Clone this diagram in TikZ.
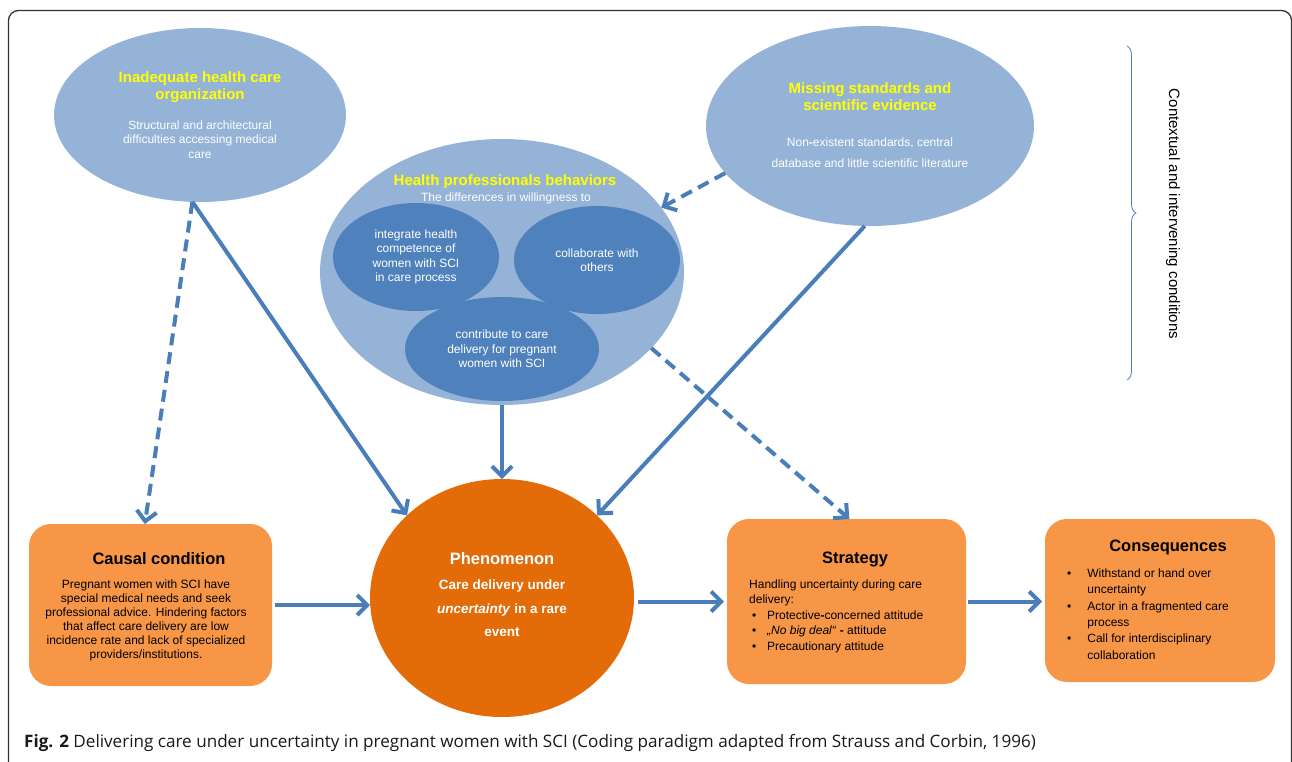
\documentclass[tikz,border=0pt]{standalone}
\usepackage{fontspec}
\setmainfont{Liberation Sans}
\newfontfamily\capfont{Open Sans}
\usetikzlibrary{arrows.meta,shapes.geometric,decorations.pathreplacing}
\definecolor{paleblue}{HTML}{95B3D7}
\definecolor{midblue}{HTML}{4F81BD}
\definecolor{arrowblue}{HTML}{4A7EBB}
\definecolor{boxorange}{HTML}{F79646}
\definecolor{phenorange}{HTML}{E36C09}
\definecolor{titleyellow}{HTML}{FFFF00}
\begin{document}
\begin{tikzpicture}[x=1pt,y=-1pt,
	bigell/.style={ellipse,fill=paleblue,inner sep=0pt,outer sep=0pt},
	smallell/.style={ellipse,fill=midblue,inner sep=0pt,outer sep=0pt},
	orbox/.style={rectangle,rounded corners=22pt,fill=boxorange,inner sep=0pt,outer sep=0pt},
	ttl/.style={text=titleyellow,font=\fontsize{15}{17.5}\selectfont\bfseries,align=center,inner sep=0pt},
	wtxt/.style={text=white,font=\fontsize{12}{14.3}\selectfont,align=center,inner sep=0pt},
	btxt/.style={text=black,font=\fontsize{12}{14}\selectfont,align=center,inner sep=0pt},
	hd/.style={text=black,font=\fontsize{16.5}{20}\selectfont\bfseries,inner sep=0pt},
	conn/.style={draw=arrowblue,line width=4pt,-{Straight Barb[length=10pt,width=20pt]}},
	dconn/.style={conn,dash pattern=on 12pt off 7pt}]
	\useasboundingbox (0,0) rectangle (1292,761);
	%	frame
	\draw[rounded corners=10pt,line width=1.3pt,draw=black!80] (8.5,10.5) rectangle (1291.5,772);
	% contextual conditions
	\node[bigell,minimum width=292pt,minimum height=174pt] (inad) at (200,115) {};
	\node[ttl] (inadttl) at (200,87) {Inadequate health care\\organization};
	\node[wtxt] (inadtxt) at (200,139.5) {Structural and architectural\\difficulties accessing medical\\care};
	\node[bigell,minimum width=364pt,minimum height=266pt] (hpb) at (502,272) {};
	\node[ttl] (hpbttl) at (505,182) {Health professionals behaviors};
	\node[wtxt] (hpbtxt) at (506,198) {The differences in willingness to};
	\node[smallell,minimum width=166pt,minimum height=108pt] (integ) at (416,257) {};
	\node[wtxt] (integtxt) at (416,257) {integrate health\\competence of\\women with SCI\\in care process};
	\node[smallell,minimum width=166pt,minimum height=108pt] (collab) at (597,260) {};
	\node[wtxt] (collabtxt) at (597,260) {collaborate with\\others};
	\node[smallell,minimum width=194pt,minimum height=104pt] (contrib) at (502,349) {};
	\node[wtxt] (contribtxt) at (502,349) {contribute to care\\delivery for pregnant\\women with SCI};
	\node[bigell,minimum width=328pt,minimum height=200pt] (miss) at (870,126) {};
	\node[ttl] (missttl) at (870,96.5) {Missing standards and\\scientific evidence};
	\node[wtxt,font=\fontsize{12}{21}\selectfont] (misstxt) at (870,152.5) {Non\textbf{-}existent standards, central\\database and little scientific literature};
	\draw[midblue,line width=0.8pt,decorate,decoration={brace,amplitude=9pt}] (1127,46) -- (1127,380);
	\node[rotate=-90,font=\fontsize{15}{18}\selectfont,inner sep=0pt] (ctxlbl) at (1173,214) {Contextual and intervening conditions};
	% paradigm row
	\node[orbox,minimum width=243pt,minimum height=162pt] (causal) at (150.5,605) {};
	\node[hd] (causalttl) at (159,559) {Causal condition};
	\node[btxt] (causaltxt) at (146,620) {Pregnant women with SCI have\\special medical needs and seek\\professional advice. Hindering factors\\that affect care delivery are low\\incidence rate and lack of specialized\\providers/institutions.};
	\node[ellipse,fill=phenorange,minimum width=264pt,minimum height=238pt,inner sep=0pt,outer sep=0pt] (phen) at (502,598) {};
	\node[hd,text=white] (phenttl) at (502,559) {Phenomenon};
	\node[text=white,font=\fontsize{13.5}{23.5}\selectfont\bfseries,align=center,inner sep=0pt] (phentxt) at (502,608.5) {Care delivery under\\\textit{uncertainty} in a rare\\event};
	\node[orbox,minimum width=239pt,minimum height=165pt] (strat) at (846.5,601.5) {};
	\node[hd] (stratttl) at (855,559) {Strategy};
	\node[anchor=west,font=\fontsize{12}{15.5}\selectfont,inner sep=0pt] (strattxt) at (749,616) {\begin{tabular}{@{}l@{\hspace{10.8pt}}l@{}}
		\multicolumn{2}{@{}l@{}}{Handling uncertainty during care}\\
		\multicolumn{2}{@{}l@{}}{delivery:}\\
		\hspace*{3pt}\textbullet & Protective\textbf{-}concerned attitude\\
		\hspace*{3pt}\textbullet & \textit{„No big deal“} \textbf{-} attitude\\
		\hspace*{3pt}\textbullet & Precautionary attitude
	\end{tabular}};
	\node[orbox,minimum width=230pt,minimum height=163pt] (cons) at (1160,600.5) {};
	\node[hd] (consttl) at (1168,547) {Consequences};
	\node[anchor=west,font=\fontsize{12}{16.4}\selectfont,inner sep=0pt] (constxt) at (1067,615) {\begin{tabular}{@{}l@{\hspace{16pt}}l@{}}
		\textbullet & Withstand or hand over\\
		 & uncertainty\\
		\textbullet & Actor in a fragmented care\\
		 & process\\
		\textbullet & Call for interdisciplinary\\
		 & collaboration
	\end{tabular}};
	% connectors
	\draw[dconn] (inad.-95) -- (causal.94);
	\draw[conn] (inad.-95) -- (phen.139);
	\draw[conn] (hpb.south) -- (phen.north);
	\draw[conn] (miss.-93) -- (phen.41);
	\draw[dconn] (miss.198) -- (hpb.22);
	\draw[dconn] (hpb.-27) -- (strat.88);
	\draw[conn,shorten <=3pt] (causal.east) -- (causal.east -| phen.west);
	\draw[conn,shorten <=4pt,shorten >=3pt] (strat.west -| phen.east) -- (strat.west);
	\draw[conn,shorten <=2pt,shorten >=3pt] (strat.east) -- (strat.east -| cons.west);
	% caption
	\node[anchor=base west,font=\capfont\fontsize{17.1}{20}\selectfont,text=black!90,inner sep=0pt] (cap) at (24,747) {\textbf{Fig. 2} Delivering care under uncertainty in pregnant women with SCI (Coding paradigm adapted from Strauss and Corbin, 1996)};
\end{tikzpicture}
\end{document}
